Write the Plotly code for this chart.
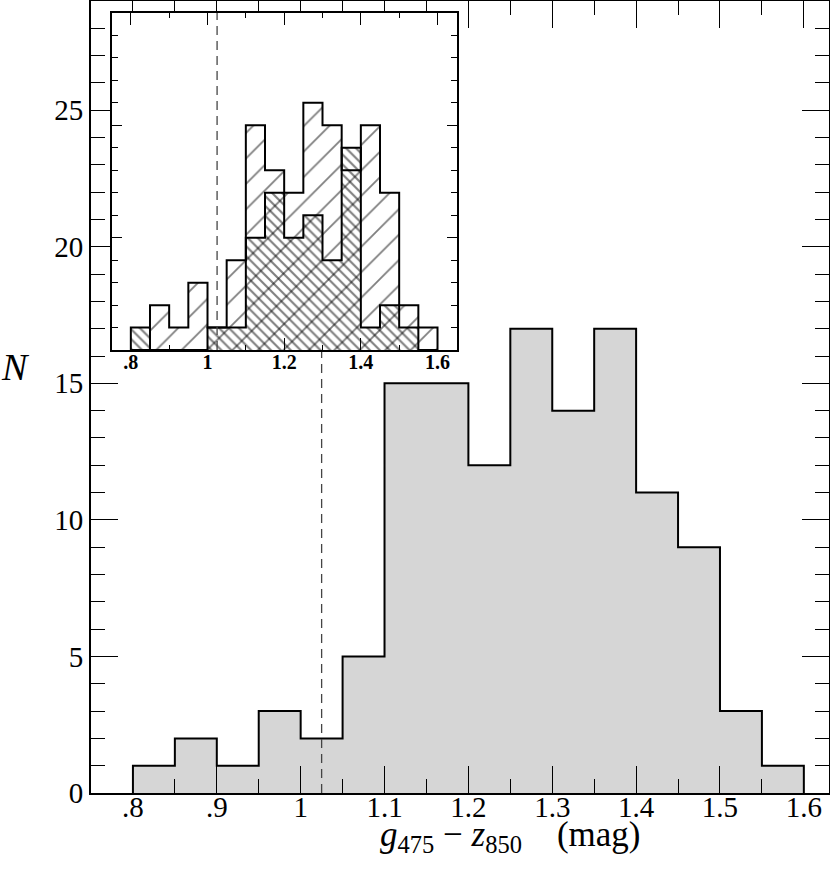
import plotly.graph_objects as go

# bin edges (g475 - z850 colour) and counts
edges = [0.80, 0.85, 0.90, 0.95, 1.00, 1.05, 1.10, 1.15, 1.20,
         1.25, 1.30, 1.35, 1.40, 1.45, 1.50, 1.55, 1.60]
counts_all = [1, 2, 1, 3, 2, 5, 15, 15, 12, 17, 14, 17, 11, 9, 3, 1]
counts_a = [0, 2, 1, 3, 1, 4, 10, 8, 7, 11, 10, 8, 10, 7, 2, 1]   # "/" hatch
counts_b = [1, 0, 0, 0, 1, 1, 5, 7, 5, 6, 4, 9, 1, 2, 1, 0]       # "\" hatch
split_color = 1.025

x_major = [0.8, 0.9, 1.0, 1.1, 1.2, 1.3, 1.4, 1.5, 1.6]
x_major_text = [".8", ".9", "1", "1.1", "1.2", "1.3", "1.4", "1.5", "1.6"]
y_major = [0, 5, 10, 15, 20, 25]
inset_x_major = [0.8, 1.0, 1.2, 1.4, 1.6]
inset_x_text = [".8", "1", "1.2", "1.4", "1.6"]

FONT = "Liberation Serif"


def step(counts):
    xs = [edges[0]] + edges + [edges[-1]]
    ys = [0] + counts + [counts[-1], 0]
    return xs, ys


main_ydom = [0, 1]
main_yrange = [0, 29]
inset_xdom = [0.028, 0.4955]
inset_ydom = [0.5592, 0.9852]
inset_yrange = [0, 15]

fig = go.Figure()

xs, ys = step(counts_all)
fig.add_trace(go.Scatter(x=xs, y=ys, mode="lines", line_shape="hv",
                         line=dict(color="black", width=2),
                         fill="tozeroy", fillcolor="#d6d6d6",
                         xaxis="x", yaxis="y"))

# dashed line up to the bottom of the inset
y_top = main_yrange[1] * (inset_ydom[0] - main_ydom[0]) / (main_ydom[1] - main_ydom[0])
fig.add_trace(go.Scatter(x=[split_color, split_color], y=[0, y_top], mode="lines",
                         line=dict(color="#444444", width=1.3, dash="9px,6px"),
                         xaxis="x", yaxis="y"))

# inset: two overlaid hatched histograms
xs, ys = step(counts_a)
fig.add_trace(go.Scatter(x=xs, y=ys, mode="lines", line_shape="hv",
                         line=dict(color="black", width=2),
                         fill="tozeroy", fillcolor="rgba(0,0,0,0)",
                         fillpattern=dict(shape="/", size=18, solidity=0.1,
                                          fgcolor="black", bgcolor="rgba(0,0,0,0)"),
                         xaxis="x2", yaxis="y2"))
xs, ys = step(counts_b)
fig.add_trace(go.Scatter(x=xs, y=ys, mode="lines", line_shape="hv",
                         line=dict(color="black", width=2),
                         fill="tozeroy", fillcolor="rgba(0,0,0,0)",
                         fillpattern=dict(shape="\\", size=7, solidity=0.3,
                                          fgcolor="black", bgcolor="rgba(0,0,0,0)"),
                         xaxis="x2", yaxis="y2"))
fig.add_trace(go.Scatter(x=[split_color, split_color], y=inset_yrange, mode="lines",
                         line=dict(color="#444444", width=1.3, dash="9px,6px"),
                         xaxis="x2", yaxis="y2"))

axis_common = dict(showline=True, linewidth=2, linecolor="black", mirror="allticks",
                   showgrid=False, zeroline=False, ticks="inside", tickwidth=1,
                   tickcolor="black", automargin=False)

fig.update_layout(
    width=830, height=875,
    margin=dict(l=91, r=1, t=1, b=82),
    paper_bgcolor="white", plot_bgcolor="white",
    showlegend=False,
    font=dict(family=FONT, color="black"),
    xaxis=dict(domain=[0, 1], range=[0.75, 1.63], anchor="y",
               tickmode="array", tickvals=x_major, ticktext=x_major_text,
               ticklen=27, tickfont=dict(size=29, family=FONT),
               ticklabelstandoff=-13,
               minor=dict(tickmode="linear", tick0=0.8, dtick=0.05, ticklen=14,
                          ticks="inside", tickcolor="black", tickwidth=1),
               **axis_common),
    yaxis=dict(domain=main_ydom, range=main_yrange, anchor="x",
               tickmode="array", tickvals=y_major,
               ticklen=27, tickfont=dict(size=29, family=FONT),
               ticklabelstandoff=0,
               minor=dict(tickmode="linear", tick0=0, dtick=1, ticklen=14,
                          ticks="inside", tickcolor="black", tickwidth=1),
               **axis_common),
    xaxis2=dict(domain=inset_xdom, range=[0.75, 1.65], anchor="y2",
                tickmode="array", tickvals=inset_x_major, ticktext=inset_x_text,
                ticklen=12, tickfont=dict(size=20, family=FONT, weight="bold"),
                ticklabelstandoff=-7,
                minor=dict(tickmode="linear", tick0=0.8, dtick=0.1, ticklen=5,
                           ticks="inside", tickcolor="black", tickwidth=1),
                **axis_common),
    yaxis2=dict(domain=inset_ydom, range=inset_yrange, anchor="x2",
                tickmode="array", tickvals=[5, 10], showticklabels=False,
                ticklen=10,
                minor=dict(tickmode="linear", tick0=0, dtick=1, ticklen=6,
                           ticks="inside", tickcolor="black", tickwidth=1),
                **axis_common),
    annotations=[
        dict(text="<i>N</i>", xref="paper", yref="paper", x=-0.125, y=0.538,
             showarrow=False, font=dict(size=38, family=FONT)),
        dict(text="<i>g</i><sub>475</sub> \u2212 <i>z</i><sub>850</sub>"
                  "\u00a0\u00a0\u00a0\u00a0(mag)",
             xref="paper", yref="paper", x=0.568, y=-0.055, yanchor="middle",
             showarrow=False, font=dict(size=35, family=FONT)),
    ],
)

fig.write_html("out.html", config={"displayModeBar": False},
               post_script="document.body.style.margin='0px';")
